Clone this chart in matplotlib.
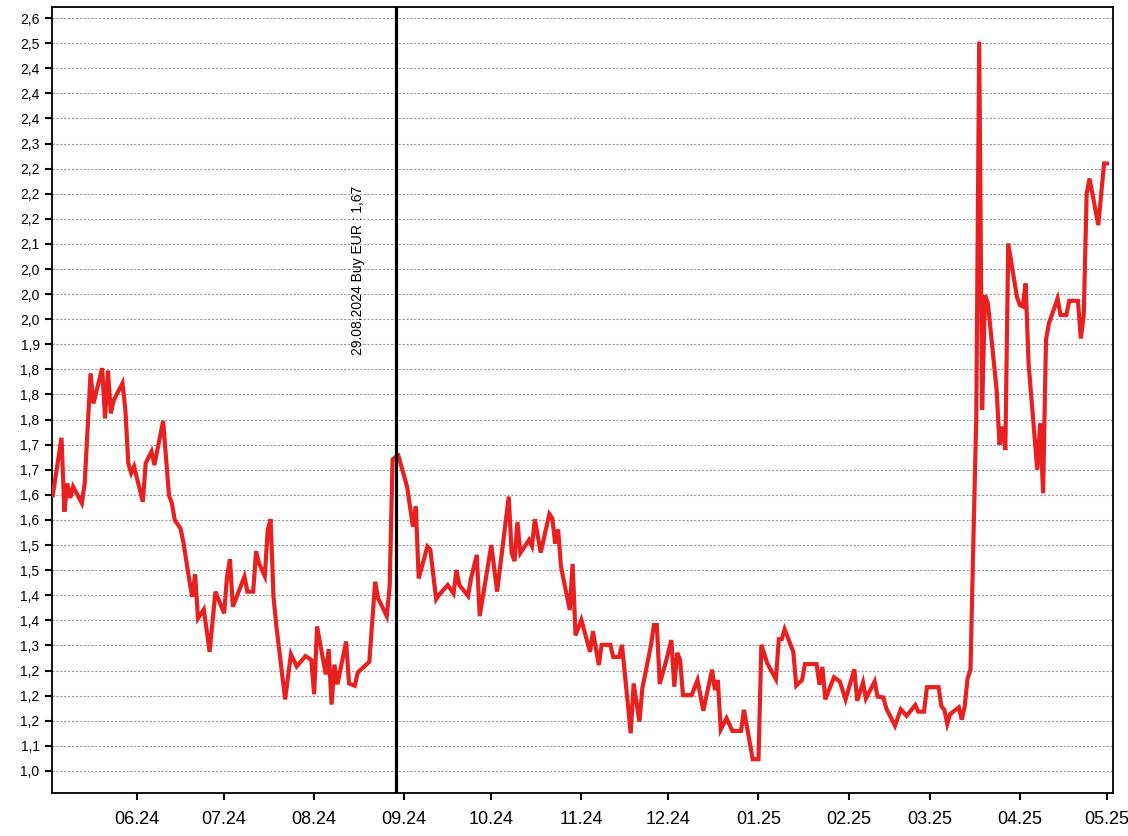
import pandas as pd
import numpy as np
import matplotlib
matplotlib.use('Agg')
import matplotlib.pyplot as plt
import matplotlib.dates as mdates
from matplotlib.ticker import FixedLocator, FixedFormatter
from matplotlib.transforms import blended_transform_factory

plt.rcParams['font.family'] = ['Liberation Sans', 'DejaVu Sans']

# курс (даты и значения)
dates = [
    '2024-05-03', '2024-05-06', '2024-05-07', '2024-05-08', '2024-05-09', '2024-05-10',
    '2024-05-13', '2024-05-14', '2024-05-16', '2024-05-17', '2024-05-20', '2024-05-21',
    '2024-05-22', '2024-05-23', '2024-05-24', '2024-05-27', '2024-05-28', '2024-05-29',
    '2024-05-30', '2024-05-31', '2024-06-03', '2024-06-04', '2024-06-06', '2024-06-07',
    '2024-06-10', '2024-06-12', '2024-06-13', '2024-06-14', '2024-06-16', '2024-06-17',
    '2024-06-19', '2024-06-20', '2024-06-21', '2024-06-22', '2024-06-24', '2024-06-26',
    '2024-06-28', '2024-07-01', '2024-07-02', '2024-07-03', '2024-07-04', '2024-07-08',
    '2024-07-09', '2024-07-11', '2024-07-12', '2024-07-13', '2024-07-15', '2024-07-16',
    '2024-07-17', '2024-07-18', '2024-07-19', '2024-07-22', '2024-07-24', '2024-07-26',
    '2024-07-29', '2024-07-31', '2024-08-01', '2024-08-02', '2024-08-05', '2024-08-06',
    '2024-08-07', '2024-08-08', '2024-08-09', '2024-08-12', '2024-08-13', '2024-08-15',
    '2024-08-16', '2024-08-20', '2024-08-22', '2024-08-23', '2024-08-26', '2024-08-27',
    '2024-08-28', '2024-08-29', '2024-08-30', '2024-09-02', '2024-09-04', '2024-09-05',
    '2024-09-06', '2024-09-09', '2024-09-10', '2024-09-12', '2024-09-13', '2024-09-16',
    '2024-09-18', '2024-09-19', '2024-09-20', '2024-09-23', '2024-09-24', '2024-09-26',
    '2024-09-27', '2024-10-01', '2024-10-03', '2024-10-07', '2024-10-08', '2024-10-09',
    '2024-10-10', '2024-10-11', '2024-10-14', '2024-10-15', '2024-10-16', '2024-10-18',
    '2024-10-21', '2024-10-22', '2024-10-23', '2024-10-24', '2024-10-25', '2024-10-28',
    '2024-10-29', '2024-10-30', '2024-11-01', '2024-11-04', '2024-11-05', '2024-11-07',
    '2024-11-08', '2024-11-11', '2024-11-12', '2024-11-14', '2024-11-15', '2024-11-18',
    '2024-11-19', '2024-11-21', '2024-11-22', '2024-11-25', '2024-11-26', '2024-11-27',
    '2024-11-28', '2024-11-30', '2024-12-02', '2024-12-03', '2024-12-04', '2024-12-05',
    '2024-12-06', '2024-12-09', '2024-12-11', '2024-12-13', '2024-12-16', '2024-12-17',
    '2024-12-18', '2024-12-19', '2024-12-21', '2024-12-23', '2024-12-26', '2024-12-27',
    '2024-12-30', '2025-01-01', '2025-01-02', '2025-01-04', '2025-01-07', '2025-01-08',
    '2025-01-09', '2025-01-10', '2025-01-13', '2025-01-14', '2025-01-16', '2025-01-17',
    '2025-01-21', '2025-01-22', '2025-01-23', '2025-01-24', '2025-01-27', '2025-01-29',
    '2025-01-31', '2025-02-03', '2025-02-04', '2025-02-06', '2025-02-07', '2025-02-10',
    '2025-02-11', '2025-02-13', '2025-02-14', '2025-02-17', '2025-02-19', '2025-02-21',
    '2025-02-24', '2025-02-25', '2025-02-27', '2025-02-28', '2025-03-04', '2025-03-05',
    '2025-03-06', '2025-03-07', '2025-03-08', '2025-03-11', '2025-03-12', '2025-03-13',
    '2025-03-14', '2025-03-15', '2025-03-16', '2025-03-17', '2025-03-18', '2025-03-19',
    '2025-03-20', '2025-03-21', '2025-03-24', '2025-03-25', '2025-03-26', '2025-03-27',
    '2025-03-28', '2025-03-31', '2025-04-01', '2025-04-02', '2025-04-03', '2025-04-04',
    '2025-04-07', '2025-04-08', '2025-04-09', '2025-04-10', '2025-04-11', '2025-04-14',
    '2025-04-15', '2025-04-17', '2025-04-18', '2025-04-21', '2025-04-22', '2025-04-23',
    '2025-04-24', '2025-04-25', '2025-04-28', '2025-04-30', '2025-05-01',
]

rates = [
    1.586, 1.708, 1.551, 1.611, 1.580, 1.604,
    1.569, 1.612, 1.845, 1.781, 1.856, 1.749,
    1.851, 1.760, 1.788, 1.824, 1.767, 1.654,
    1.633, 1.647, 1.572, 1.654, 1.679, 1.650,
    1.744, 1.586, 1.569, 1.533, 1.515, 1.485,
    1.406, 1.370, 1.418, 1.324, 1.343, 1.253,
    1.381, 1.335, 1.413, 1.450, 1.349, 1.413,
    1.381, 1.381, 1.467, 1.441, 1.414, 1.512,
    1.535, 1.370, 1.307, 1.152, 1.248, 1.222,
    1.244, 1.236, 1.163, 1.307, 1.205, 1.259,
    1.141, 1.226, 1.184, 1.275, 1.186, 1.181,
    1.209, 1.232, 1.402, 1.367, 1.329, 1.392,
    1.662, 1.667, 1.670, 1.604, 1.519, 1.562,
    1.409, 1.477, 1.470, 1.365, 1.374, 1.395,
    1.377, 1.427, 1.395, 1.372, 1.409, 1.459,
    1.329, 1.480, 1.381, 1.583, 1.463, 1.446,
    1.529, 1.463, 1.491, 1.478, 1.535, 1.464,
    1.546, 1.537, 1.483, 1.513, 1.434, 1.342,
    1.440, 1.288, 1.321, 1.253, 1.297, 1.225,
    1.268, 1.268, 1.242, 1.242, 1.268, 1.080,
    1.186, 1.105, 1.175, 1.268, 1.310, 1.310,
    1.185, 1.229, 1.278, 1.179, 1.251, 1.236,
    1.161, 1.161, 1.193, 1.128, 1.215, 1.172,
    1.193, 1.088, 1.112, 1.085, 1.085, 1.130,
    1.025, 1.025, 1.268, 1.229, 1.195, 1.280,
    1.280, 1.301, 1.253, 1.181, 1.193, 1.227,
    1.227, 1.183, 1.221, 1.152, 1.199, 1.190,
    1.152, 1.216, 1.149, 1.188, 1.154, 1.190,
    1.158, 1.156, 1.133, 1.096, 1.131, 1.117,
    1.140, 1.126, 1.126, 1.178, 1.178, 1.137,
    1.130, 1.100, 1.121, 1.135, 1.109, 1.137,
    1.197, 1.215, 1.490, 1.753, 2.550, 1.767,
    2.011, 1.994, 1.810, 1.693, 1.732, 1.682,
    2.121, 2.007, 1.990, 1.987, 2.036, 1.866,
    1.640, 1.739, 1.590, 1.916, 1.951, 2.004,
    1.969, 1.969, 1.999, 1.999, 1.919, 1.969,
    2.227, 2.259, 2.160, 2.291, 2.291,
]

# подписи оси Y (так они выглядят на исходном графике)
y_labels = ['1,0', '1,1', '1,2', '1,2', '1,2', '1,3', '1,4', '1,4', '1,5', '1,5', '1,6',
            '1,6', '1,7', '1,7', '1,8', '1,8', '1,8', '1,9', '2,0', '2,0', '2,0', '2,1',
            '2,2', '2,2', '2,2', '2,3', '2,4', '2,4', '2,4', '2,5', '2,6']

buy_date = '2024-08-29'
buy_text = '29.08.2024 Buy EUR : 1,67'

df = pd.DataFrame({'date': pd.to_datetime(dates), 'rate': rates})

fig = plt.figure(figsize=(11.28, 8.36), dpi=100)
ax = fig.add_axes([0.0461, 0.0514, 0.9402, 0.9402])

ax.plot(df['date'], df['rate'], color='#e82020', lw=3, solid_joinstyle='miter', zorder=3)

# вертикальная линия покупки
ax.axvline(pd.Timestamp(buy_date) + pd.Timedelta(hours=8), color='black', lw=2.3, zorder=4)
trans = blended_transform_factory(ax.transData, ax.transData)
ax.text(pd.Timestamp('2024-08-16 02:00'), 1.884, buy_text, rotation=90,
        ha='center', va='bottom', fontsize=10, transform=trans)

# ось Y
yt = np.linspace(1.0, 2.6, len(y_labels))
ax.yaxis.set_major_locator(FixedLocator(yt))
ax.yaxis.set_major_formatter(FixedFormatter(y_labels))
ax.set_ylim(0.953, 2.6235)
ax.grid(axis='y', color='#9a9a9a', lw=0.8, linestyle=(0, (2, 1.5)))

# ось X
ax.xaxis.set_major_locator(mdates.MonthLocator())
ax.xaxis.set_major_formatter(mdates.DateFormatter('%m.%y'))
ax.set_xlim(pd.Timestamp('2024-05-02 17:30'), pd.Timestamp('2025-05-02 22:00'))

ax.tick_params(axis='y', labelsize=10, length=5, width=1.5, pad=4, direction='out')
ax.tick_params(axis='x', labelsize=13, length=5, width=1.5, pad=8, direction='out')
for s in ax.spines.values():
    s.set_linewidth(1.3)

plt.savefig('out.png', dpi=100)
